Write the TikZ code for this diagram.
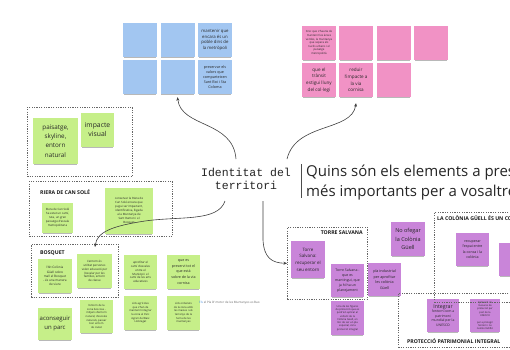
\documentclass[tikz,border=0pt]{standalone}
\usepackage{fontspec}
\setmainfont{Open Sans}
\newfontfamily\monofam{Liberation Mono}
\usetikzlibrary{shadows,arrows.meta}
\definecolor{stgreen}{HTML}{C6EF89}
\definecolor{stblue}{HTML}{A2C6F1}
\definecolor{stpink}{HTML}{F192C5}
\definecolor{stpurple}{HTML}{C985D9}
\definecolor{linkblue}{HTML}{4A8FE0}
\begin{document}
\begin{tikzpicture}[x=1pt,y=-1pt,
  sticky/.style={rectangle, inner sep=1pt, align=center, text=black!85,
    drop shadow={shadow xshift=0pt, shadow yshift=-2pt, shadow scale=0.96, opacity=0.28, fill=black}},
  sq/.style={minimum width=34pt, minimum height=34pt},
  blu/.style={sticky, sq, fill=stblue},
  pnk/.style={sticky, sq, fill=stpink},
  grn/.style={sticky, fill=stgreen},
  prp/.style={sticky, fill=stpurple},
  frame/.style={draw=black!60, line width=0.6pt, dash pattern=on 1.2pt off 1.2pt, inner sep=0, anchor=north west},
  ttl/.style={font=\bfseries\fontsize{5.2}{6}\selectfont, inner sep=0, text=black!90},
  link/.style={draw=black!75, line width=0.6pt, -{Stealth[length=3.5pt,width=3pt]}}
]
\useasboundingbox (0,0) rectangle (510,349);
\clip (0,0) rectangle (510,349);
\fill[white] (0,0) rectangle (510,349);

% ---------------- blue stickies
\node[blu] (b1) at (140,40) {};
\node[blu] (b2) at (177.5,40) {};
\node[blu,font=\fontsize{4.3}{5.6}\selectfont] (b3) at (215,40) {mantenir que\\encara és un\\poble dins de\\la metròpoli};
\node[blu] (b4) at (140,77) {};
\node[blu] (b5) at (177.5,77) {};
\node[blu,font=\fontsize{3.7}{5}\selectfont] (b6) at (215,77) {preservar els\\valors que\\comparteixen\\Sant Boi i Sta\\Coloma};

% ---------------- pink stickies
\node[pnk,font=\fontsize{2.8}{3.6}\selectfont] (p1) at (319,43) {Crec que s'hauria de\\mantenir les àrees\\verdes, la muntanya\\que separa els\\nuclis urbans i el\\paisatge\\metropolità};
\node[pnk] (p2) at (356,43) {};
\node[pnk] (p3) at (393.5,43) {};
\node[pnk] (p4) at (431,43) {};
\node[pnk,font=\fontsize{4.6}{6.6}\selectfont] (p5) at (319,80) {que el\\trànsit\\estigui lluny\\del col·legi};
\node[pnk,font=\fontsize{4.6}{6.6}\selectfont] (p6) at (356,80) {reduir\\l'impacte a\\la via\\cornisa};
\node[pnk] (p7) at (393.5,80) {};

% ---------------- green: landscape
\node[grn,minimum width=45pt,minimum height=46pt,font=\fontsize{6.3}{9.3}\selectfont] (g1) at (55.5,141) {paisatge,\\skyline,\\entorn\\natural};
\node[grn,sq,minimum width=33pt,font=\fontsize{6.8}{9}\selectfont] (g2) at (97.5,130) {impacte\\visual};

% ---------------- green: riera
\node[grn,minimum width=31pt,minimum height=30pt,font=\fontsize{2.9}{3.9}\selectfont] (r1) at (57.5,218) {Riera de Can Solé\\ha estat un camí,\\ruta, un gran\\passatge d'escala\\metropolitana};
\node[grn,minimum width=48pt,minimum height=46pt,font=\fontsize{2.9}{4}\selectfont] (r2) at (129,211) {conservar la Riera de\\Can Solé encara que\\pugui ser impactant,\\identificativa, lligada\\a la Muntanya de\\Sant Ramon i el\\Bosquet};

% ---------------- green: bosquet and others
\node[grn,sq,font=\fontsize{3.1}{4.1}\selectfont] (s1) at (55,276) {l'Alt Colònia\\Güell sobre\\mall el Bosquet\\- és una manera\\de viure};
\node[grn,sq,minimum width=35pt,font=\fontsize{2.9}{3.9}\selectfont] (s2) at (94.5,271) {L'entorn és\\utilitat persones\\volen educació per\\l'escalar per les\\famílies, entorn\\de classe};
\node[grn,sq,minimum width=33pt,font=\fontsize{2.9}{3.9}\selectfont] (s3) at (140.5,272) {aprofitar el\\camí d'escales\\entre el\\Municipi i el\\camí de les arts\\educatives};
\node[grn,sq,minimum width=33pt,font=\fontsize{3.6}{5.6}\selectfont] (s4) at (183.5,272) {que es\\preservi tot el\\que està\\sobre de la via\\cornisa};
\node[grn,minimum width=34pt,minimum height=32pt,font=\fontsize{6}{9}\selectfont] (s5) at (55,324) {aconseguir\\un parc};
\node[grn,sq,minimum width=33pt,minimum height=33pt,font=\fontsize{2.7}{3.7}\selectfont] (s6) at (96.5,316.5) {l'entorn de la\\zona boscosa -\\mitjans d'entorn\\natural, d'escoles\\naturals, passar\\bon entorn\\de ciutat};
\node[grn,sq,minimum width=33pt,font=\fontsize{2.7}{3.7}\selectfont] (s7) at (140.5,313) {sòls agrícoles\\que s'han de\\mantenir integrar\\la zona al Parc\\Agrari del Baix\\Llobregat};
\node[grn,sq,minimum width=33pt,font=\fontsize{2.7}{3.7}\selectfont] (s8) at (183.5,313) {sòls ordenats\\de la zona amb\\les masies i els\\terrenys de la\\Serra de les\\muntanyes};

\node[anchor=west,inner sep=0,font=\fontsize{3}{4}\selectfont,text=black!60] (note) at (199,303) {\textcolor{linkblue}{Els} el Pla D' motor de les Muntanyes es Bao};

% ---------------- purple
\node[prp,minimum width=34pt,minimum height=37pt,font=\fontsize{4.5}{6.7}\selectfont] (t1) at (308,259.5) {Torre\\Salvana:\\recuperar el\\seu entorn};
\node[prp,sq,minimum width=33pt,minimum height=33pt,font=\fontsize{3.5}{5}\selectfont] (t2) at (347.5,280.5) {Torre Salvana -\\que es\\mantingui, que\\ja hi ha un\\planejament};
\node[prp,sq,minimum width=33pt,minimum height=33pt,font=\fontsize{3.7}{5.5}\selectfont] (t3) at (384.5,279.5) {pla industrial\\per aprofitar\\les colònia\\Güell};
\node[prp,sq,font=\fontsize{5.5}{8.3}\selectfont] (t4) at (408,239) {No ofegar\\la Colònia\\Güell};
\node[prp,sq,minimum width=33pt,font=\fontsize{2.6}{3.3}\selectfont] (t5) at (347.5,318) {Una de les figures\\de protecció que es\\podrien aplicar al\\voltant de la\\Colònia Güell, en\\lloc de ser un pla\\especial, és la\\protecció integral};
\node[prp,sq,minimum width=33pt,minimum height=33pt,font=\fontsize{3.6}{5.4}\selectfont] (t6) at (472.5,249.5) {recuperar\\l'espai entre\\la conca i la\\colònia};
\node[prp,sq,minimum height=33pt] (t7) at (516,259.5) {};
\node[prp,minimum width=32pt,minimum height=33pt,font=\fontsize{3.4}{4.4}\selectfont] (t8) at (443,315.5) {{\fontsize{5.2}{6}\selectfont Integrar}\\l'entorn com a\\patrimoni\\mundial per la\\UNESCO};
\node[prp,minimum width=30pt,minimum height=33pt,font=\fontsize{2.5}{3.3}\selectfont] (t9) at (485,315.5) {Aplicació de\\mesures de\\protecció per\\part de la\\UNESCO\\\\per a protegir\\l'entorn i no\\només l'edifici};

% ---------------- frames
\node[frame,minimum width=105pt,minimum height=69pt] (fr1) at (27,107) {};
\node[frame,minimum width=143pt,minimum height=55pt] (riera) at (29,181) {};
\node[ttl,anchor=west] (rieraT) at (40,192) {RIERA DE CAN SOLÉ};
\node[frame,minimum width=87pt,minimum height=53pt] (bosq) at (31,244) {};
\node[ttl,anchor=west] (bosqT) at (40,253) {BOSQUET};
\node[frame,minimum width=80pt,minimum height=72pt] (torre) at (287,227) {};
\node[ttl,anchor=east] (torreT) at (363,232.5) {TORRE SALVANA};
\node[frame,minimum width=100pt,minimum height=90pt] (colon) at (434,212) {};
\node[ttl,anchor=west] (colonT) at (437,219) {LA COLÒNIA GÜELL ÉS UN CONJUNT};
\node[frame,minimum width=130pt,minimum height=54pt] (prot) at (398,293) {};
\node[ttl,anchor=west] (protT) at (407,341) {PROTECCIÓ PATRIMONIAL INTEGRAL};

% ---------------- central texts
\node[font=\monofam\fontsize{11.5}{13}\selectfont,align=center,text=black!85,inner sep=0] (ident) at (246,178.5) {Identitat del\\territori};
\node[anchor=west,align=left,font=\fontsize{15}{20}\selectfont,text=black!85,inner sep=0] (quins) at (306,182.5) {Quins són els elements a preservar\\més importants per a vosaltres?};
\coordinate (barT) at (301,164);
\coordinate (barB) at (301,198);
\draw[black!70,line width=0.5pt] (barT) -- (barB);

% ---------------- connectors
\coordinate (a1s) at (236,159);
\coordinate (a2s) at (287,159);
\coordinate (a3s) at (225,201);
\coordinate (a3e) at (95,247);
\coordinate (a4s) at (263,201);
\draw[link] (a1s) .. controls (233,120) and (181,128) .. ([yshift=-3pt]b5.south);
\draw[link] (a2s) .. controls (296,122) and (352,132) .. ([yshift=-6pt]p6.south);
\draw[link] (a3s) .. controls (218,222) and (180,216) .. (145,221) .. controls (112,226) and (97,232) .. (a3e);
\draw[link] (a4s) -- (263,240) .. controls (264,258) and (272,263) .. (torre.west);
\end{tikzpicture}
\end{document}
